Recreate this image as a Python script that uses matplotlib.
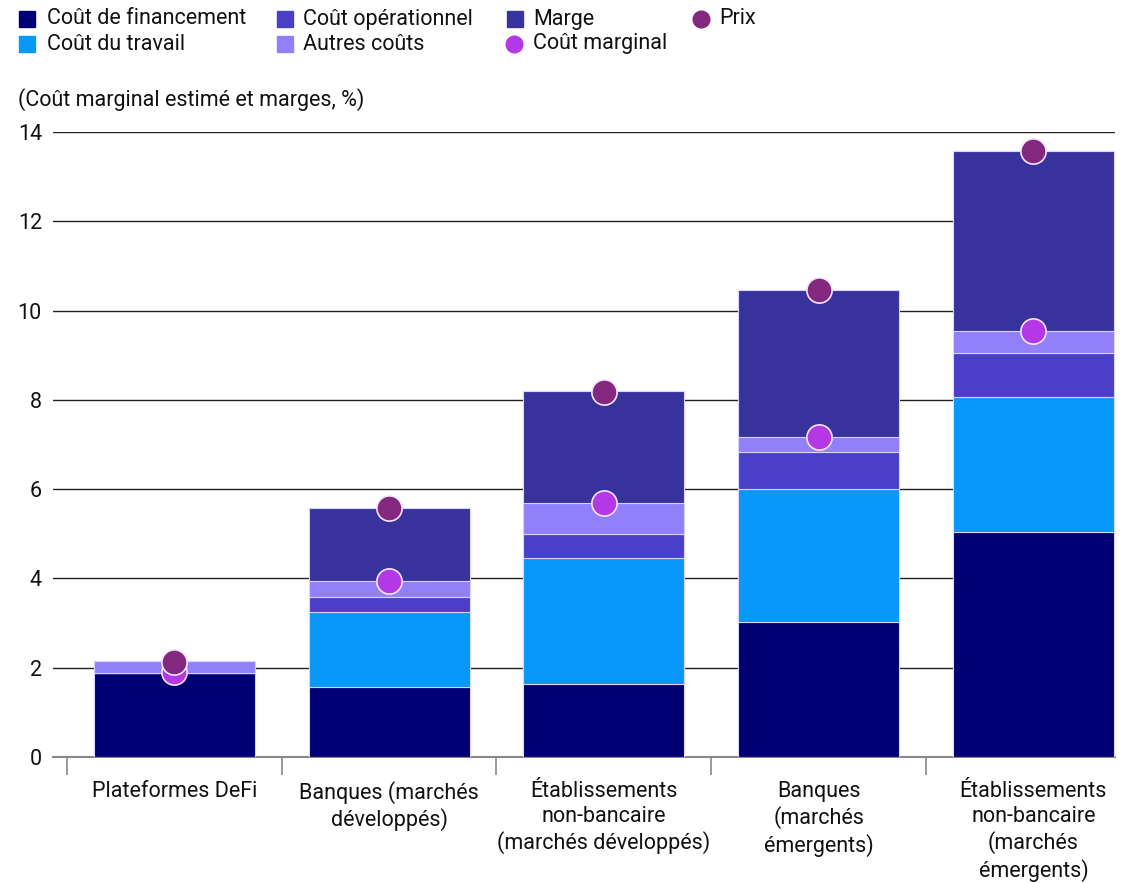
import matplotlib
matplotlib.use("Agg")
import matplotlib.pyplot as plt
from matplotlib.patches import Rectangle
from matplotlib.lines import Line2D
import numpy as np

plt.rcParams['font.family'] = ['Roboto', 'DejaVu Sans']

categories = ["Plateformes DeFi", "Banques (marchés\ndéveloppés)",
              "Établissements\nnon-bancaire\n(marchés développés)",
              "Banques\n(marchés\némergents)",
              "Établissements\nnon-bancaire\n(marchés\némergents)"]
financement = [1.88, 1.57, 1.63, 3.02, 5.04]
travail = [0.00, 1.68, 2.83, 2.98, 3.02]
operationnel = [0.00, 0.33, 0.54, 0.83, 0.99]
autres = [0.27, 0.36, 0.69, 0.34, 0.49]
marge = [0.00, 1.64, 2.51, 3.29, 4.04]
prix = [2.13, 5.58, 8.18, 10.46, 13.58]
cout_marginal = [1.90, 3.94, 5.69, 7.17, 9.54]
yticks = [0, 2, 4, 6, 8, 10, 12, 14]

series = [("Coût de financement", financement, "#000074"),
          ("Coût du travail", travail, "#0798F9"),
          ("Coût opérationnel", operationnel, "#4A3FC8"),
          ("Autres coûts", autres, "#9280FA"),
          ("Marge", marge, "#38339C")]
c_prix = "#84277F"
c_marg = "#B538E6"

W, H = 1126, 883
FS = 15.5
fig = plt.figure(figsize=(W / 100, H / 100), dpi=100)
ax = fig.add_axes([53 / W, 1 - 757 / H, (1115 - 53) / W, (757 - 132) / H])

x = np.arange(len(categories))
bottom = np.zeros(len(categories))
for name, vals, col in series:
    vals = np.array(vals)
    ax.bar(x, vals, 0.75, bottom=bottom, color=col, edgecolor="#D8D4FF",
           linewidth=0.8, zorder=3)
    bottom += vals

ax.scatter(x, cout_marginal, s=330, color=c_marg, edgecolor="#F2E6FF",
           linewidth=1.2, zorder=5)
ax.scatter(x, prix, s=330, color=c_prix, edgecolor="#F2E6FF",
           linewidth=1.2, zorder=6)

ax.set_ylim(0, 14)
ax.set_xlim(-0.565, 4.38)
ax.set_yticks(yticks)
ax.set_yticklabels([str(t) for t in yticks], fontsize=FS, color="#111111")
ax.grid(axis="y", color="#222222", linewidth=1.0, zorder=0)
ax.set_axisbelow(True)
for s in ["top", "right", "left"]:
    ax.spines[s].set_visible(False)
ax.spines["bottom"].set_color("#888888")
ax.spines["bottom"].set_linewidth(1.5)
ax.tick_params(axis="y", length=0, pad=8)

# category boundaries ticks
ax.set_xticks(np.arange(len(categories)) - 0.5)
ax.set_xticklabels([])
ax.tick_params(axis="x", length=13, width=1.2, color="#888888")
for xi, lab in zip(x, categories):
    ax.annotate(lab, (xi, 0), xycoords=("data", "axes fraction"),
                xytext=(0, -17), textcoords="offset points", ha="center",
                va="top", fontsize=FS, color="#111111", linespacing=1.25)

# legend (manual)
rows = [19, 44]
entries = [("Coût de financement", "#000074", "s", 19, 47, 0),
           ("Coût opérationnel", "#4A3FC8", "s", 277, 303, 0),
           ("Marge", "#38339C", "s", 507, 533, 0),
           ("Prix", c_prix, "o", 693, 719, 0),
           ("Coût du travail", "#0798F9", "s", 19, 47, 1),
           ("Autres coûts", "#9280FA", "s", 277, 303, 1),
           ("Coût marginal", c_marg, "o", 506, 533, 1)]
for lab, col, kind, px, tx, r in entries:
    py = rows[r]
    if kind == "s":
        fig.patches.append(Rectangle((px / W, 1 - (py + 8) / H), 16 / W, 16 / H,
                                     transform=fig.transFigure, color=col))
    else:
        fig.lines.append(Line2D([(px + 8) / W], [1 - py / H], marker="o",
                                markersize=12, color=col, linestyle="none",
                                transform=fig.transFigure))
    fig.text(tx / W, 1 - py / H, lab, fontsize=FS, va="center",
             ha="left", color="#111111")

fig.text(18 / W, 1 - 100 / H, "(Coût marginal estimé et marges, %)",
         fontsize=FS, va="center", ha="left", color="#111111")

fig.savefig("out.png", dpi=100)
